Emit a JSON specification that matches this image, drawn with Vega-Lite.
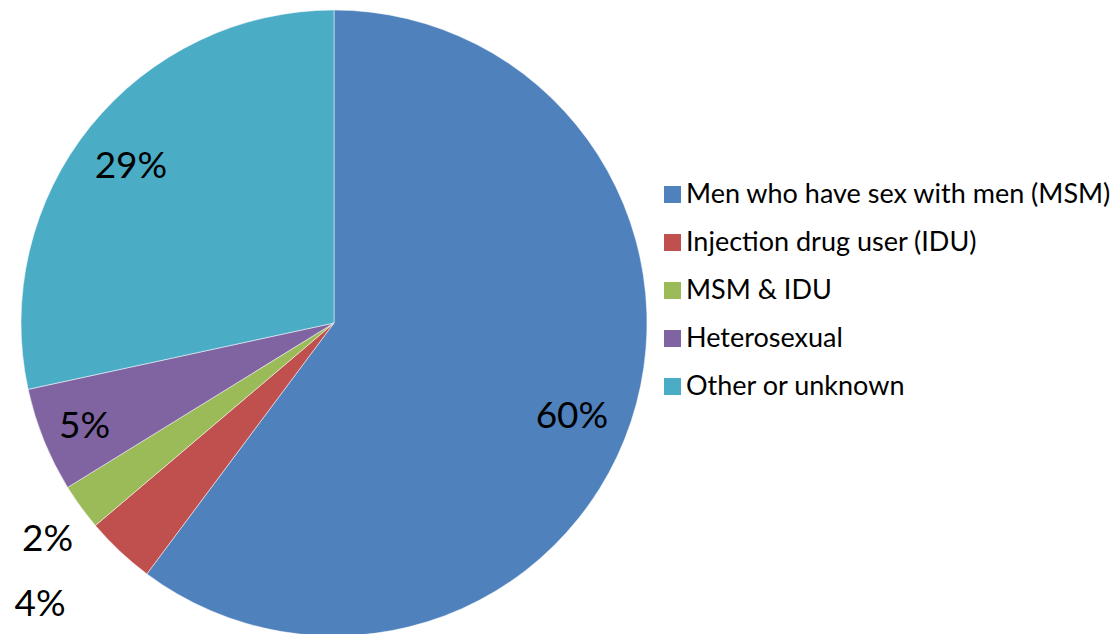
{
  "$schema": "https://vega.github.io/schema/vega-lite/v6.json",
  "width": 668,
  "height": 646,
  "autosize": {"type": "none"},
  "padding": {"left": 0, "top": 0, "right": 449, "bottom": 0},
  "background": "white",
  "config": {"view": {"stroke": null}},
  "data": {
    "values": [
      {"cat": "Men who have sex with men (MSM)", "value": 60.2, "label": "60%", "order": 1},
      {"cat": "Injection drug user (IDU)", "value": 3.6, "label": "4%", "order": 2},
      {"cat": "MSM & IDU", "value": 2.4, "label": "2%", "order": 3},
      {"cat": "Heterosexual", "value": 5.4, "label": "5%", "order": 4},
      {"cat": "Other or unknown", "value": 28.4, "label": "29%", "order": 5}
    ]
  },
  "encoding": {
    "theta": {"field": "value", "type": "quantitative", "stack": true},
    "order": {"field": "order", "type": "quantitative"}
  },
  "layer": [
    {
      "mark": {"type": "arc", "outerRadius": 313, "stroke": "white", "strokeWidth": 0.5},
      "encoding": {
        "color": {
          "field": "cat",
          "type": "nominal",
          "scale": {
            "domain": ["Men who have sex with men (MSM)", "Injection drug user (IDU)", "MSM & IDU", "Heterosexual", "Other or unknown"],
            "range": ["#4F81BD", "#C0504D", "#9BBB59", "#8064A2", "#4BACC6"]
          },
          "legend": {
            "orient": "none",
            "legendX": 659,
            "legendY": 181,
            "title": null,
            "symbolType": "square",
            "symbolSize": 289,
            "symbolStrokeWidth": 0,
            "labelFont": "Lato",
            "labelFontSize": 27,
            "labelColor": "black",
            "labelLimit": 0,
            "labelOffset": 0,
            "rowPadding": 20,
            "padding": 0
          }
        }
      }
    },
    {
      "mark": {"type": "text", "radius": 257, "fontSize": 37, "font": "Lato", "color": "black", "dx": -6, "dy": 13},
      "encoding": {
        "text": {"condition": {"test": "datum.order == 1", "field": "label", "type": "nominal"}, "value": ""}
      }
    },
    {
      "mark": {"type": "text", "radius": 257, "fontSize": 37, "font": "Lato", "color": "black", "dx": -3, "dy": 5},
      "encoding": {
        "text": {"condition": {"test": "datum.order == 5", "field": "label", "type": "nominal"}, "value": ""}
      }
    },
    {
      "mark": {"type": "text", "radius": 270, "fontSize": 37, "font": "Lato", "color": "black", "dx": 1, "dy": 3},
      "encoding": {
        "text": {"condition": {"test": "datum.order == 4", "field": "label", "type": "nominal"}, "value": ""}
      }
    },
    {
      "mark": {"type": "text", "radius": 359, "fontSize": 37, "font": "Lato", "color": "black", "dx": 4, "dy": 6},
      "encoding": {
        "text": {"condition": {"test": "datum.order == 3", "field": "label", "type": "nominal"}, "value": ""}
      }
    },
    {
      "mark": {"type": "text", "radius": 387, "fontSize": 37, "font": "Lato", "color": "black", "dx": -29, "dy": 0},
      "encoding": {
        "text": {"condition": {"test": "datum.order == 2", "field": "label", "type": "nominal"}, "value": ""}
      }
    }
  ]
}
